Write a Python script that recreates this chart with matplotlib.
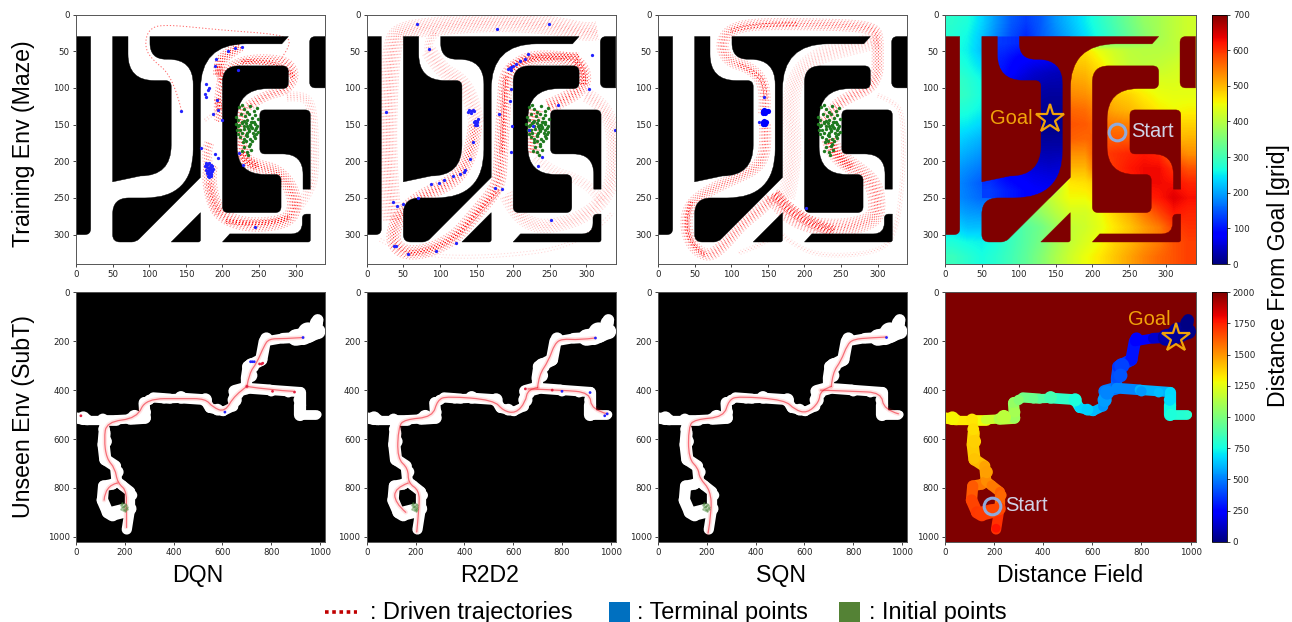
import numpy as np
import matplotlib
matplotlib.use("Agg")
import matplotlib.pyplot as plt
from matplotlib.path import Path
from matplotlib.patches import PathPatch, Rectangle, Polygon
from matplotlib.collections import LineCollection
from matplotlib.colors import Normalize
from matplotlib.cm import ScalarMappable
from matplotlib.lines import Line2D

plt.rcParams['font.family'] = ['DejaVu Sans']
TXT = ['Liberation Sans', 'DejaVu Sans']

W, H = 1292, 622
MAZE_SIZE = 340
SUBT_SIZE = 1020
COLUMN_TITLES = ['DQN', 'R2D2', 'SQN', 'Distance Field']
ROW_TITLES = ['Training Env (Maze)', 'Unseen Env (SubT)']
MAZE_TICKS = [0, 50, 100, 150, 200, 250, 300]
SUBT_TICKS = [0, 200, 400, 600, 800, 1000]
MAZE_CBAR_TICKS = [0, 100, 200, 300, 400, 500, 600, 700]
SUBT_CBAR_TICKS = [0, 250, 500, 750, 1000, 1250, 1500, 1750, 2000]

# maze walls: (x, y, corner radius)
WALLS = [
    [(0, 30, 0), (20, 30, 0), (20, 300, 8), (0, 300, 0)],
    [(50, 30, 0), (71, 30, 0), (71, 90, 36), (130, 90, 8), (130, 220, 42), (88, 220, 0), (50, 228, 0)],
    [(101, 30, 0), (290, 30, 0), (281, 40, 0), (170, 40, 62), (170, 222, 0), (82, 310, 6), (50, 310, 10),
     (50, 250, 22), (160, 250, 66), (160, 61, 34), (101, 61, 22)],
    [(200, 70, 22), (290, 70, 8), (290, 101, 8), (220, 101, 42), (220, 218, 38), (280, 218, 8), (280, 270, 8), (200, 270, 8)],
    [(251, 130, 7), (320, 130, 7), (320, 238, 0), (310, 238, 0), (310, 190, 28), (251, 190, 7)],
    [(320, 272, 0), (320, 310, 3), (200, 310, 0), (210, 299, 0), (309, 299, 15), (309, 272, 6)],
    [(340, 30, 0), (340, 100, 0), (319, 100, 8), (319, 30, 8)],
    [(170, 270, 0), (170, 310, 3), (130, 310, 0)],
]

# distance field of the maze, one value per 20-unit cell
MAZE_FIELD = [
    [280, 270, 235, 190, 150, 130, 150, 190, 220, 250, 280, 310, 340, 370, 385, 405, 420],
    [275, 260, 225, 180, 140, 115, 150, 180, 210, 240, 270, 300, 330, 360, 385, 405, 420],
    [270, 255, 220, 130, 110, 100, 90, 80, 470, 470, 440, 420, 405, 400, 400, 405, 420],
    [280, 265, 240, 130, 105, 80, 65, 60, 495, 490, 465, 430, 410, 405, 410, 420, 430],
    [295, 280, 260, 100, 80, 60, 45, 40, 515, 510, 480, 460, 440, 435, 430, 430, 435],
    [295, 285, 265, 60, 40, 30, 25, 25, 535, 530, 510, 490, 480, 460, 445, 440, 440],
    [275, 270, 255, 40, 25, 20, 15, 15, 560, 555, 530, 510, 500, 480, 460, 450, 455],
    [255, 250, 235, 30, 20, 15, 10, 15, 575, 570, 550, 545, 540, 500, 480, 480, 480],
    [240, 225, 210, 40, 30, 25, 20, 25, 565, 560, 570, 570, 570, 530, 510, 500, 505],
    [220, 205, 190, 60, 50, 45, 40, 40, 530, 530, 590, 600, 610, 620, 610, 550, 530],
    [200, 185, 170, 100, 80, 70, 60, 65, 500, 500, 570, 600, 620, 630, 630, 600, 575],
    [190, 170, 150, 120, 95, 85, 80, 400, 465, 470, 490, 590, 610, 630, 630, 625, 610],
    [190, 175, 160, 150, 150, 150, 390, 420, 450, 450, 470, 570, 590, 610, 620, 640, 625],
    [210, 195, 190, 210, 240, 340, 370, 400, 425, 425, 445, 480, 510, 550, 585, 620, 610],
    [240, 220, 220, 250, 290, 320, 340, 375, 410, 420, 440, 465, 490, 520, 545, 590, 600],
    [270, 260, 255, 270, 295, 320, 345, 380, 410, 430, 450, 480, 500, 525, 545, 575, 590],
    [295, 280, 265, 280, 300, 325, 355, 390, 420, 445, 465, 490, 515, 540, 560, 575, 590],
]
# goal corridor, read on its own: rows y=40..240, columns x=60..160
GOAL_CORRIDOR_FIELD = [
    [130, 125, 115, 105, 105, 105],
    [120, 105, 85, 80, 75, 70],
    [110, 95, 70, 50, 40, 35],
    [80, 60, 40, 30, 25, 25],
    [50, 40, 25, 20, 15, 15],
    [40, 30, 20, 10, 8, 8],
    [45, 30, 20, 12, 10, 12],
    [60, 45, 30, 25, 25, 25],
    [90, 70, 55, 45, 40, 45],
    [115, 90, 75, 65, 60, 60],
    [130, 110, 95, 80, 75, 75],
]
GOAL_CORRIDOR_OUTLINE = [(50, 30), (170, 30), (170, 222), (142, 250), (50, 250)]

# maze trajectories: (points, band width in data units, strength)
DQN_ROUTES = [
    ([(228, 178), (226, 195), (245, 207), (272, 212), (292, 232), (300, 258), (292, 280), (258, 287), (222, 285), (196, 272), (186, 250), (181, 222), (184, 205)], 18, 1.0),
    ([(235, 125), (258, 110), (285, 104), (297, 90), (297, 75), (285, 63), (250, 60), (222, 65), (202, 78), (197, 100), (194, 130), (196, 146)], 12, 1.0),
    ([(195, 82), (195, 66), (205, 55), (224, 43)], 14, 1.4),
    ([(288, 112), (310, 110), (323, 125), (326, 200), (322, 240), (300, 266)], 12, 0.35),
    ([(144, 131), (133, 85), (100, 58), (94, 40), (99, 21), (117, 13), (196, 21), (290, 28), (292, 44), (280, 60)], 1.5, 0.6),
    ([(195, 130), (175, 145)], 3, 0.5),
    ([(182, 175), (176, 190), (182, 212)], 12, 0.8),
    ([(228, 125), (222, 150), (224, 178)], 18, 0.9),
    ([(182, 230), (184, 255), (196, 272)], 12, 0.5),
    ([(195, 70), (195, 85), (200, 90)], 8, 2.0),
    ([(193, 115), (196, 130)], 7, 2.5),
    ([(226, 190), (236, 203), (248, 207)], 10, 2.5),
    ([(205, 282), (260, 288), (292, 276)], 5, 2.5),
    ([(296, 85), (285, 63), (225, 64)], 5, 2.5),
]
R2D2_ROUTES = [
    ([(248, 125), (272, 115), (295, 100), (298, 80), (285, 62), (250, 58), (220, 60), (200, 72), (190, 85), (188, 110), (185, 160), (183, 200), (180, 235), (150, 270), (123, 302), (91, 320), (59, 326), (40, 318), (35, 300), (45, 272), (75, 247), (110, 232), (130, 215), (145, 180), (148, 150)], 18, 1.0),
    ([(35, 280), (28, 200), (30, 100), (35, 40), (45, 22), (100, 15), (180, 10), (260, 15), (300, 25), (315, 22)], 24, 0.45),
    ([(85, 50), (82, 35), (95, 25)], 10, 0.35),
    ([(85, 50), (100, 75), (130, 90), (145, 120), (150, 150)], 20, 0.3),
    ([(300, 110), (320, 120), (335, 150), (338, 180), (335, 240), (300, 275), (250, 290), (220, 285), (200, 265), (190, 245)], 18, 0.35),
    ([(230, 195), (250, 212), (290, 225), (310, 240), (320, 255)], 12, 0.18),
    ([(18, 307), (55, 327), (160, 332), (295, 316), (336, 270)], 4, 0.3),
    ([(195, 74), (210, 62), (240, 57), (290, 57)], 9, 2.0),
    ([(230, 130), (224, 165), (226, 190)], 20, 0.9),
    ([(180, 240), (150, 272), (120, 305), (85, 322), (55, 326)], 6, 1.8),
    ([(190, 85), (187, 130), (185, 190)], 6, 1.5),
    ([(296, 95), (298, 75), (285, 62)], 10, 1.5),
]
SQN_ROUTES = [
    ([(145, 135), (147, 110), (140, 85), (120, 70), (100, 65), (88, 50), (88, 35), (100, 20), (130, 13), (200, 13), (270, 15), (295, 20), (300, 30), (300, 60), (300, 80), (290, 100), (265, 110), (240, 125), (225, 150)], 15, 0.8),
    ([(146, 150), (148, 185), (135, 210), (100, 225), (60, 245), (40, 265), (38, 295), (50, 320), (70, 330), (90, 315), (115, 285), (145, 262), (155, 250)], 15, 0.8),
    ([(235, 170), (240, 190), (270, 210), (295, 230), (300, 260), (295, 280), (260, 290), (220, 290), (190, 280), (170, 265), (155, 245)], 22, 0.75),
    ([(300, 35), (260, 45), (220, 55), (190, 80), (180, 120), (185, 180), (180, 230), (175, 250)], 22, 0.25),
    ([(300, 110), (325, 120), (335, 140), (335, 220), (325, 300), (300, 325), (220, 330), (180, 310), (165, 295), (140, 315), (110, 325)], 5, 0.2),
    ([(100, 22), (130, 13), (190, 13)], 4, 2.5),
    ([(147, 115), (146, 95), (135, 80), (110, 68)], 4, 2.5),
    ([(45, 255), (37, 280), (45, 315), (65, 328)], 5, 2.0),
    ([(160, 245), (190, 280), (240, 295)], 14, 1.5),
    ([(235, 170), (240, 195), (265, 208)], 12, 1.5),
]

# initial points shared by the maze panels
INIT_X = [222, 226, 229, 233, 238, 243, 247, 219, 221, 225, 231, 236, 241, 244, 249, 218, 223, 227, 234, 237, 243, 247,
          220, 224, 229, 235, 239, 244, 246, 221, 226, 232, 236, 242, 246, 224, 229, 233, 238, 243, 228, 232, 237, 241,
          230, 236, 227, 233, 239, 235, 232, 238, 244, 240, 236, 230, 226, 221, 234, 241, 248, 245, 234, 229, 239]
INIT_Y = [126, 124, 129, 133, 125, 131, 127, 139, 144, 136, 138, 135, 141, 137, 143, 149, 151, 146, 144, 150, 147, 152,
          157, 158, 152, 155, 153, 157, 155, 163, 161, 164, 159, 161, 163, 167, 170, 166, 169, 166, 174, 172, 177, 173,
          181, 179, 186, 188, 184, 192, 148, 150, 149, 155, 158, 156, 148, 152, 162, 147, 160, 168, 152, 145, 146]

# terminal points
DQN_END_X = [178, 180, 182, 184, 186, 176, 179, 181, 183, 185, 187, 178, 180, 182, 184, 186, 179, 181, 183, 185, 180, 182, 184, 177,
             180, 178, 192, 194, 199, 187, 170, 190, 194, 222, 228, 244, 144, 221, 190, 191, 217, 226, 208, 182, 176, 178]
DQN_END_Y = [203, 204, 203, 205, 206, 207, 208, 209, 208, 210, 211, 212, 213, 212, 214, 213, 216, 217, 216, 218, 220, 221, 220, 205,
             103, 112, 117, 130, 144, 135, 182, 190, 195, 189, 205, 289, 131, 75, 70, 60, 45, 44, 50, 100, 108, 95]
R2D2_END_X = [68, 178, 249, 85, 26, 220, 308, 303, 261, 197, 196, 180, 198, 222, 227, 197, 240, 234, 175, 185, 36, 41, 49, 70, 88, 99, 106, 118, 127, 133, 134,
              141, 145, 252, 122, 94, 57, 37, 40, 339, 138, 140, 143, 145, 146, 142, 148, 150, 146, 150, 148, 152, 150, 149, 195, 197, 200, 193, 204, 210, 216, 197]
R2D2_END_Y = [13, 20, 13, 47, 133, 54, 55, 102, 124, 102, 118, 136, 152, 158, 152, 188, 194, 206, 237, 238, 256, 261, 258, 250, 231, 230, 225, 220, 218, 214, 212,
              197, 174, 280, 311, 322, 326, 315, 316, 158, 133, 130, 131, 130, 132, 134, 145, 145, 147, 147, 150, 143, 150, 148, 73, 72, 70, 74, 68, 63, 60, 75]
SQN_END_X = [145, 143, 145, 147, 144, 146, 150, 143, 145, 147, 144, 146, 138, 202]
SQN_END_Y = [113, 132, 130, 132, 134, 134, 132, 147, 145, 147, 149, 149, 146, 264]

# SubT corridor branches: (x, y, distance value)
SUBT_WEST = [(0, 514, 1300), (45, 521, 1320), (113, 521, 1330), (165, 521, 1240), (222, 518, 1150), (283, 514, 1100), (279, 453, 1050),
             (317, 430, 1000), (385, 435, 950), (440, 433, 870), (528, 439, 770), (548, 473, 700), (603, 487, 650), (644, 467, 580), (650, 405, 500), (698, 392, 480)]
SUBT_NORTH = [(698, 392, 480), (698, 351, 420), (705, 304, 380), (759, 276, 320), (773, 201, 250), (848, 188, 200), (900, 185, 80), (930, 180, 50), (975, 160, 20), (990, 113, 10)]
SUBT_EAST = [(698, 392, 480), (793, 399, 550), (916, 408, 650), (916, 460, 700), (916, 500, 770), (984, 500, 800)]
SUBT_SOUTH = [(113, 521, 1330), (117, 575, 1350), (113, 623, 1380), (120, 684, 1400), (161, 711, 1450), (167, 772, 1500), (150, 785, 1540), (113, 792, 1600), (108, 850, 1650), (130, 900, 1700), (150, 912, 1700)]
SUBT_LOOP = [(167, 772, 1500), (190, 790, 1540), (222, 815, 1580), (222, 881, 1650), (208, 970, 1780)]
SUBT_START = [(150, 905, 1700), (190, 895, 1680), (222, 885, 1650)]
SUBT_WEST_W = [46, 38, 44, 38, 48, 46, 38, 42, 38, 44, 42, 40, 38, 42, 52]
SUBT_NORTH_W = [46, 46, 50, 50, 40, 44, 68, 72, 48]
SUBT_EAST_W = [44, 42, 46, 50, 40]
SUBT_SOUTH_W = [38, 50, 50, 48, 44, 44, 44, 46, 48, 50]
SUBT_LOOP_W = [42, 42, 42, 42, 34]
SUBT_START_W = [58, 52]
# bulges along the corridors: x, y, diameter, distance value
BLOB_X = [30, 110, 240, 285, 280, 300, 360, 430, 530, 580, 650, 660, 720, 715, 780, 900, 950, 990, 985, 120, 115, 170, 120, 915, 920, 990, 800, 870, 208, 230]
BLOB_Y = [515, 520, 510, 490, 450, 440, 435, 430, 440, 480, 440, 410, 300, 340, 190, 180, 165, 160, 125, 610, 560, 735, 680, 440, 500, 500, 405, 410, 965, 830]
BLOB_D = [56, 48, 58, 44, 44, 42, 40, 52, 54, 48, 58, 58, 62, 56, 52, 54, 84, 64, 54, 54, 48, 50, 44, 48, 48, 32, 42, 40, 36, 42]
BLOB_V = [1300, 1330, 1150, 1100, 1060, 1020, 960, 870, 770, 660, 560, 510, 380, 420, 240, 80, 40, 20, 10, 1380, 1350, 1480, 1400, 680, 770, 800, 550, 620, 1780, 1600]

# driven SubT paths
DQN_SUB = [[(205, 885), (212, 815), (170, 780), (160, 720), (125, 680), (115, 600), (125, 530), (250, 515), (285, 435), (440, 435), (530, 435), (560, 470), (610, 490), (650, 420), (700, 385)],
           [(700, 385), (710, 330), (740, 290), (770, 220), (790, 190), (850, 190), (930, 185)],
           [(700, 385), (800, 400), (890, 405)], [(170, 780), (120, 790), (115, 850)], [(205, 885), (205, 960)]]
R2D2_SUB = [[(205, 980), (215, 880), (215, 810), (170, 780), (170, 720), (125, 680), (130, 550), (155, 520), (270, 510), (290, 440), (330, 425), (520, 440), (560, 485), (610, 495), (650, 450), (660, 395), (700, 390)],
            [(700, 390), (705, 340), (745, 280), (770, 210), (800, 190), (870, 195), (935, 187)],
            [(660, 395), (800, 400), (915, 410), (920, 480), (985, 497)], [(170, 780), (115, 800), (115, 860), (160, 900)]]
SQN_SUB = [[(205, 985), (220, 900), (215, 810), (170, 760), (165, 720), (125, 680), (125, 550), (150, 520), (270, 510), (290, 440), (330, 425), (520, 440), (560, 480), (610, 495), (660, 450), (665, 400), (710, 385)],
           [(710, 385), (715, 330), (750, 280), (775, 215), (800, 192), (870, 186), (935, 183)],
           [(665, 400), (800, 405), (915, 410), (925, 480), (985, 497)]]
DQN_SUB_END_X = [930, 610, 715, 722, 730, 752, 760, 765, 805, 895, 700, 20]
DQN_SUB_END_Y = [185, 490, 284, 284, 284, 293, 293, 290, 405, 408, 385, 505]
R2D2_SUB_END_X = [937, 985, 975, 915, 800, 760, 650]
R2D2_SUB_END_Y = [187, 497, 505, 410, 405, 400, 395]
SQN_SUB_END_X = [935]
SQN_SUB_END_Y = [183]
SUB_INIT_X = [185, 190, 195, 200, 205, 188, 193, 198, 203, 208, 186, 192, 197, 202, 207, 190, 200]
SUB_INIT_Y = [868, 866, 872, 865, 870, 878, 880, 876, 882, 878, 888, 892, 886, 890, 886, 862, 895]

SUB_VALUE_NORM = (0, 2000)
MAZE_VALUE_NORM = (0, 700)
WALL_RED = '#7f0000'


def rect_px(l, t, r, b):
    return [l / W, 1 - b / H, (r - l) / W, (b - t) / H]


def rounded_path(verts):
    n = len(verts)
    pts, codes = [], []
    for i, (x, y, r) in enumerate(verts):
        p = np.array([x, y], float)
        if r == 0:
            pts.append(p)
            codes.append(Path.LINETO)
            continue
        a = np.array(verts[i - 1][:2], float)
        b = np.array(verts[(i + 1) % n][:2], float)
        pa = p + (a - p) / np.linalg.norm(a - p) * r
        pb = p + (b - p) / np.linalg.norm(b - p) * r
        pts += [pa, p, pb]
        codes += [Path.LINETO, Path.CURVE3, Path.CURVE3]
    codes[0] = Path.MOVETO
    pts.append(pts[0])
    codes.append(Path.CLOSEPOLY)
    return Path(pts, codes)


def smooth_path(points):
    p = [np.array(q, float) for q in points]
    pts, codes = [p[0]], [Path.MOVETO]
    for i in range(1, len(p) - 1):
        end = (p[i] + p[i + 1]) / 2 if i < len(p) - 2 else p[i + 1]
        pts += [p[i], end]
        codes += [Path.CURVE3, Path.CURVE3]
    if len(p) == 2:
        pts.append(p[1])
        codes.append(Path.LINETO)
    return Path(pts, codes)


def flatten_route(points):
    """Follow the same rounded curve as smooth_path, as a dense polyline."""
    p = np.array(points, float)
    if len(p) == 2:
        return np.array([p[0] + (p[1] - p[0]) * t for t in np.linspace(0, 1, 8)])
    out = []
    start = p[0]
    for i in range(1, len(p) - 1):
        end = (p[i] + p[i + 1]) / 2 if i < len(p) - 2 else p[i + 1]
        for t in np.linspace(0, 1, 12, endpoint=False):
            out.append((1 - t) ** 2 * start + 2 * t * (1 - t) * p[i] + t ** 2 * end)
        start = end
    out.append(p[-1])
    return np.array(out)


def data_pts(width, size):
    return width * 249.0 / size * 72.0 / 100.0


def draw_walls(ax, color, z=2):
    for w in WALLS:
        ax.add_patch(PathPatch(rounded_path(w), fc=color, ec=color, lw=0.3, zorder=z))


def draw_routes(ax, routes):
    """A bundle of driven runs: parallel dotted lanes across the read band width."""
    for pts, width, strength in routes:
        line = flatten_route(pts)
        d = np.gradient(line, axis=0)
        normal = np.column_stack([-d[:, 1], d[:, 0]]) / (np.linalg.norm(d, axis=1, keepdims=True) + 1e-9)
        lanes = max(1, int(round(width / 1.9)))
        for off in (np.linspace(-0.5, 0.5, lanes) if lanes > 1 else [0.0]):
            lane = line + normal * off * width
            a = min(1, (0.85 - 1.1 * abs(off)) * strength + 0.06)
            ax.plot(lane[:, 0], lane[:, 1], color='#ff0000', lw=0.75, alpha=a,
                    linestyle=(0, (1.2, 1.9)), zorder=3)


def branch_segments(branch, widths):
    segs, vals, lws = [], [], []
    for a, b, w in zip(branch[:-1], branch[1:], widths):
        segs.append([a[:2], b[:2]])
        vals.append((a[2] + b[2]) / 2)
        lws.append(data_pts(w, SUBT_SIZE))
    return segs, vals, lws


BRANCHES = [(SUBT_WEST, SUBT_WEST_W), (SUBT_NORTH, SUBT_NORTH_W), (SUBT_EAST, SUBT_EAST_W),
            (SUBT_SOUTH, SUBT_SOUTH_W), (SUBT_LOOP, SUBT_LOOP_W), (SUBT_START, SUBT_START_W)]


def draw_subt(ax, cmap=None, norm=None):
    sizes = [data_pts(d, SUBT_SIZE) ** 2 for d in BLOB_D]
    for br, wd in BRANCHES:
        segs, vals, lws = branch_segments(br, wd)
        if cmap is None:
            lc = LineCollection(segs, colors='white', linewidths=lws, capstyle='round', zorder=2)
        else:
            lc = LineCollection(segs, array=np.array(vals), cmap=cmap, norm=norm, linewidths=lws, capstyle='round', zorder=2)
        ax.add_collection(lc)
    if cmap is None:
        ax.scatter(BLOB_X, BLOB_Y, s=sizes, c='white', lw=0, zorder=2)
    else:
        ax.scatter(BLOB_X, BLOB_Y, s=sizes, c=BLOB_V, cmap=cmap, norm=norm, lw=0, zorder=2)


def style_axes(ax, size, ticks, tick_size=6.2):
    ax.set_xlim(0, size)
    ax.set_ylim(size, 0)
    ax.set_xticks(ticks)
    ax.set_yticks(ticks)
    ax.tick_params(labelsize=tick_size, length=2.5, width=0.6, pad=2, colors='#222222')
    for s in ax.spines.values():
        s.set_linewidth(0.7)
        s.set_color('#555555')
        s.set_zorder(8)


fig = plt.figure(figsize=(W / 100, H / 100), dpi=100, facecolor='white')
COL_X = [(76, 325), (366.7, 615.7), (658, 907), (945, 1195.5)]
TOP_Y = (14.5, 264)
BOT_Y = (292.3, 541.7)

# top row
for i, (routes, ex, ey) in enumerate([(DQN_ROUTES, DQN_END_X, DQN_END_Y), (R2D2_ROUTES, R2D2_END_X, R2D2_END_Y), (SQN_ROUTES, SQN_END_X, SQN_END_Y)]):
    ax = fig.add_axes(rect_px(COL_X[i][0], TOP_Y[0], COL_X[i][1], TOP_Y[1]))
    draw_routes(ax, routes)
    draw_walls(ax, 'black', z=3.5)
    ax.scatter(INIT_X, INIT_Y, s=6, c='#1f7a1f', lw=0, zorder=4)
    ax.scatter(ex, ey, s=5.5, c='#2222ff', lw=0, zorder=5)
    if i == 2:
        ax.scatter(ex[1:-2], ey[1:-2], s=14, c='#0000ff', lw=0, zorder=5)
    style_axes(ax, MAZE_SIZE, MAZE_TICKS)

# maze distance field
ax = fig.add_axes(rect_px(COL_X[3][0], TOP_Y[0], COL_X[3][1], TOP_Y[1]))
maze_norm = Normalize(*MAZE_VALUE_NORM)
ax.imshow(MAZE_FIELD, cmap='jet', norm=maze_norm, extent=(0, MAZE_SIZE, MAZE_SIZE, 0), interpolation='bilinear', aspect='auto', zorder=1)
goal_im = ax.imshow(GOAL_CORRIDOR_FIELD, cmap='jet', norm=maze_norm, extent=(50, 170, 250, 30), interpolation='bilinear', aspect='auto', zorder=1.5)
goal_im.set_clip_path(Polygon(GOAL_CORRIDOR_OUTLINE, transform=ax.transData))
style_axes(ax, MAZE_SIZE, MAZE_TICKS)
draw_walls(ax, WALL_RED)
ax.plot([142], [142], marker='*', ms=21, mfc='none', mec='#f0a30a', mew=1.6, zorder=6)
ax.plot([234], [160], marker='o', ms=12, mfc='none', mec='#8faadc', mew=2.2, zorder=6)
ax.text(90, 142, 'Goal', color='#f0a30a', fontsize=14.5, ha='center', va='center', family=TXT, zorder=6)
ax.text(281, 159, 'Start', color='#d0d3e6', fontsize=14.5, ha='center', va='center', family=TXT, zorder=6)

# bottom row
for i, (paths, ex, ey) in enumerate([(DQN_SUB, DQN_SUB_END_X, DQN_SUB_END_Y), (R2D2_SUB, R2D2_SUB_END_X, R2D2_SUB_END_Y), (SQN_SUB, SQN_SUB_END_X, SQN_SUB_END_Y)]):
    ax = fig.add_axes(rect_px(COL_X[i][0], BOT_Y[0], COL_X[i][1], BOT_Y[1]))
    ax.set_facecolor('black')
    style_axes(ax, SUBT_SIZE, SUBT_TICKS)
    draw_subt(ax)
    for pts in paths:
        path = smooth_path(pts)
        ax.add_patch(PathPatch(path, fill=False, ec='#ff3030', lw=3.2, alpha=0.13, capstyle='round', zorder=3))
        ax.add_patch(PathPatch(path, fill=False, ec='#f02030', lw=0.9, alpha=0.6, capstyle='round', zorder=3))
    ax.scatter(SUB_INIT_X, SUB_INIT_Y, s=3, c='#4f8a3f', alpha=0.6, lw=0, zorder=4)
    ax.scatter(ex, ey, s=4, c=['#2222ff' if k < 5 else '#e02040' for k in range(len(ex))], lw=0, zorder=5)

# SubT distance field
ax = fig.add_axes(rect_px(COL_X[3][0], BOT_Y[0], COL_X[3][1], BOT_Y[1]))
ax.set_facecolor(WALL_RED)
sub_norm = Normalize(*SUB_VALUE_NORM)
style_axes(ax, SUBT_SIZE, SUBT_TICKS)
draw_subt(ax, 'jet', sub_norm)
ax.plot([940], [185], marker='*', ms=21, mfc='none', mec='#f0a30a', mew=1.6, zorder=6)
ax.plot([192], [875], marker='o', ms=12, mfc='none', mec='#8faadc', mew=2.2, zorder=6)
ax.text(830, 110, 'Goal', color='#f0a30a', fontsize=14.5, ha='center', va='center', family=TXT, zorder=6)
ax.text(333, 872, 'Start', color='#d0d3e6', fontsize=14.5, ha='center', va='center', family=TXT, zorder=6)

# colour bars
for (t, b), norm, ticks in [(TOP_Y, maze_norm, MAZE_CBAR_TICKS), (BOT_Y, sub_norm, SUBT_CBAR_TICKS)]:
    cax = fig.add_axes(rect_px(1212, t, 1226.5, b))
    cb = fig.colorbar(ScalarMappable(norm=norm, cmap='jet'), cax=cax, ticks=ticks)
    cb.ax.tick_params(labelsize=6.3, length=2.5, width=0.6, pad=2, colors='#222222')
    cb.outline.set_linewidth(0.6)


def ftext(x, y, s, **kw):
    fig.text(x / W, 1 - y / H, s, family=TXT, color='black', **kw)


LABEL = 16.7
for x, t in zip([197.5, 489.5, 781, 1070.5], COLUMN_TITLES):
    ftext(x, 575.5, t, fontsize=LABEL, ha='center', va='center')
ftext(23.5, 144, ROW_TITLES[0], fontsize=LABEL, rotation=90, ha='center', va='center')
ftext(23.5, 417, ROW_TITLES[1], fontsize=LABEL, rotation=90, ha='center', va='center')
ftext(1278, 276, 'Distance From Goal [grid]', fontsize=LABEL, rotation=90, ha='center', va='center')

# legend
fig.add_artist(Line2D([325 / W, 357 / W], [1 - 612 / H, 1 - 612 / H], color='#c00000', lw=2.6, linestyle=(0, (1, 1))))
fig.add_artist(Rectangle((609 / W, 1 - 622 / H), 21 / W, 20 / H, transform=fig.transFigure, fc='#0070c0', ec='none'))
fig.add_artist(Rectangle((839 / W, 1 - 622 / H), 21 / W, 20 / H, transform=fig.transFigure, fc='#548235', ec='none'))
ftext(370, 612.5, ': Driven trajectories', fontsize=16.9, ha='left', va='center')
ftext(637, 612.5, ': Terminal points', fontsize=16.9, ha='left', va='center')
ftext(869, 612.5, ': Initial points', fontsize=16.9, ha='left', va='center')

fig.savefig('out.png', dpi=100)
